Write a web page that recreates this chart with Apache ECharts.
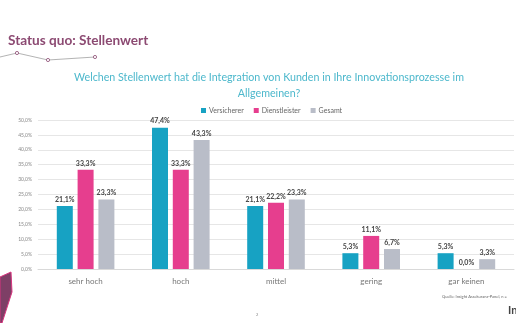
<!DOCTYPE html>
<html><head><meta charset="utf-8">
<script src="https://cdn.jsdelivr.net/npm/echarts@6/dist/echarts.min.js"></script>
<style>html,body{margin:0;padding:0;background:#fff}#c{width:516px;height:323px}</style>
</head><body><div id="c"></div>
<script>
const categories = ['sehr hoch', 'hoch', 'mittel', 'gering', 'gar keinen'];
const versicherer = [21.1, 47.4, 21.1, 5.3, 5.3];
const dienstleister = [33.3, 33.3, 22.2, 11.1, 0.0];
const gesamt = [23.3, 43.3, 23.3, 6.7, 3.3];
const seriesNames = ['Versicherer', 'Dienstleister', 'Gesamt'];
const colors = ['#17a2c3', '#e63e8e', '#b9bdc8'];

const chart = echarts.init(document.getElementById('c'), null, {renderer: 'canvas'});
const fmt = v => v.toFixed(1).replace('.', ',') + '%';
const lbl = {show: true, position: 'top', distance: 3, fontFamily: 'Lato', fontSize: 7, fontWeight: 'bold', color: '#444',
  formatter: p => fmt(p.value)};
const mk = (name, data, i) => ({name, type: 'bar', data, barWidth: 16, barGap: '30%',
  itemStyle: {color: colors[i]}, label: lbl});
chart.setOption({
  animation: false,
  textStyle: {fontFamily: 'Lato'},
  title: {
    text: 'Welchen Stellenwert hat die Integration von Kunden in Ihre Innovationsprozesse im\nAllgemeinen?',
    left: 264, textAlign: 'center', top: 65,
    textStyle: {fontFamily: 'Lato', fontSize: 10.7, fontWeight: 'normal', color: '#4db8cc', lineHeight: 16}
  },
  legend: {
    data: seriesNames, left: 196, top: 102,
    itemWidth: 5, itemHeight: 5, itemGap: 10, icon: 'rect',
    textStyle: {fontSize: 7, color: '#666', padding: [0, 0, 0, -2]}
  },
  grid: {left: 38, right: 2, top: 120, bottom: 54},
  xAxis: {type: 'category', data: categories,
    axisLine: {lineStyle: {color: '#d9d9d9'}}, axisTick: {show: false},
    axisLabel: {fontSize: 8, color: '#777', margin: 8}},
  yAxis: {type: 'value', min: 0, max: 50, interval: 5,
    axisLine: {show: false}, axisTick: {show: false},
    splitLine: {lineStyle: {color: '#e6e6e6'}},
    axisLabel: {fontSize: 5, color: '#888', margin: 6, formatter: v => v.toFixed(1).replace('.', ',') + '%'}},
  series: [mk(seriesNames[0], versicherer, 0), mk(seriesNames[1], dienstleister, 1), mk(seriesNames[2], gesamt, 2)],
  graphic: [
    {type: 'text', left: 8, top: 34, style: {text: 'Status quo: Stellenwert', font: 'bold 13.6px Lato', fill: '#8c4a72'}},
    {type: 'polyline', shape: {points: [[0, 57], [17, 53], [48, 60], [95, 57]]}, style: {stroke: '#a0a0a0', lineWidth: 0.8, fill: null}},
    {type: 'circle', shape: {cx: 17, cy: 53, r: 1.6}, style: {fill: '#fff', stroke: '#8c4a72', lineWidth: 0.8}},
    {type: 'circle', shape: {cx: 48, cy: 60, r: 1.6}, style: {fill: '#fff', stroke: '#8c4a72', lineWidth: 0.8}},
    {type: 'circle', shape: {cx: 95, cy: 57, r: 1.6}, style: {fill: '#fff', stroke: '#8c4a72', lineWidth: 0.8}},
    {type: 'polygon', shape: {points: [[0, 277], [11, 272], [12, 292], [2, 323], [0, 323]]}, style: {fill: '#7e3f66', stroke: '#d8357f', lineWidth: 1}},
    {type: 'text', left: 442, top: 295, style: {text: 'Quelle: Insight Assekuranz-Panel, n = ', font: '4px Lato', fill: '#666'}},
    {type: 'text', left: 256, top: 313, style: {text: '2', font: '4px Lato', fill: '#888'}},
    {type: 'text', left: 508, top: 305, style: {text: 'In', font: 'bold 11px Lato', fill: '#444'}}
  ]
});
</script></body></html>
